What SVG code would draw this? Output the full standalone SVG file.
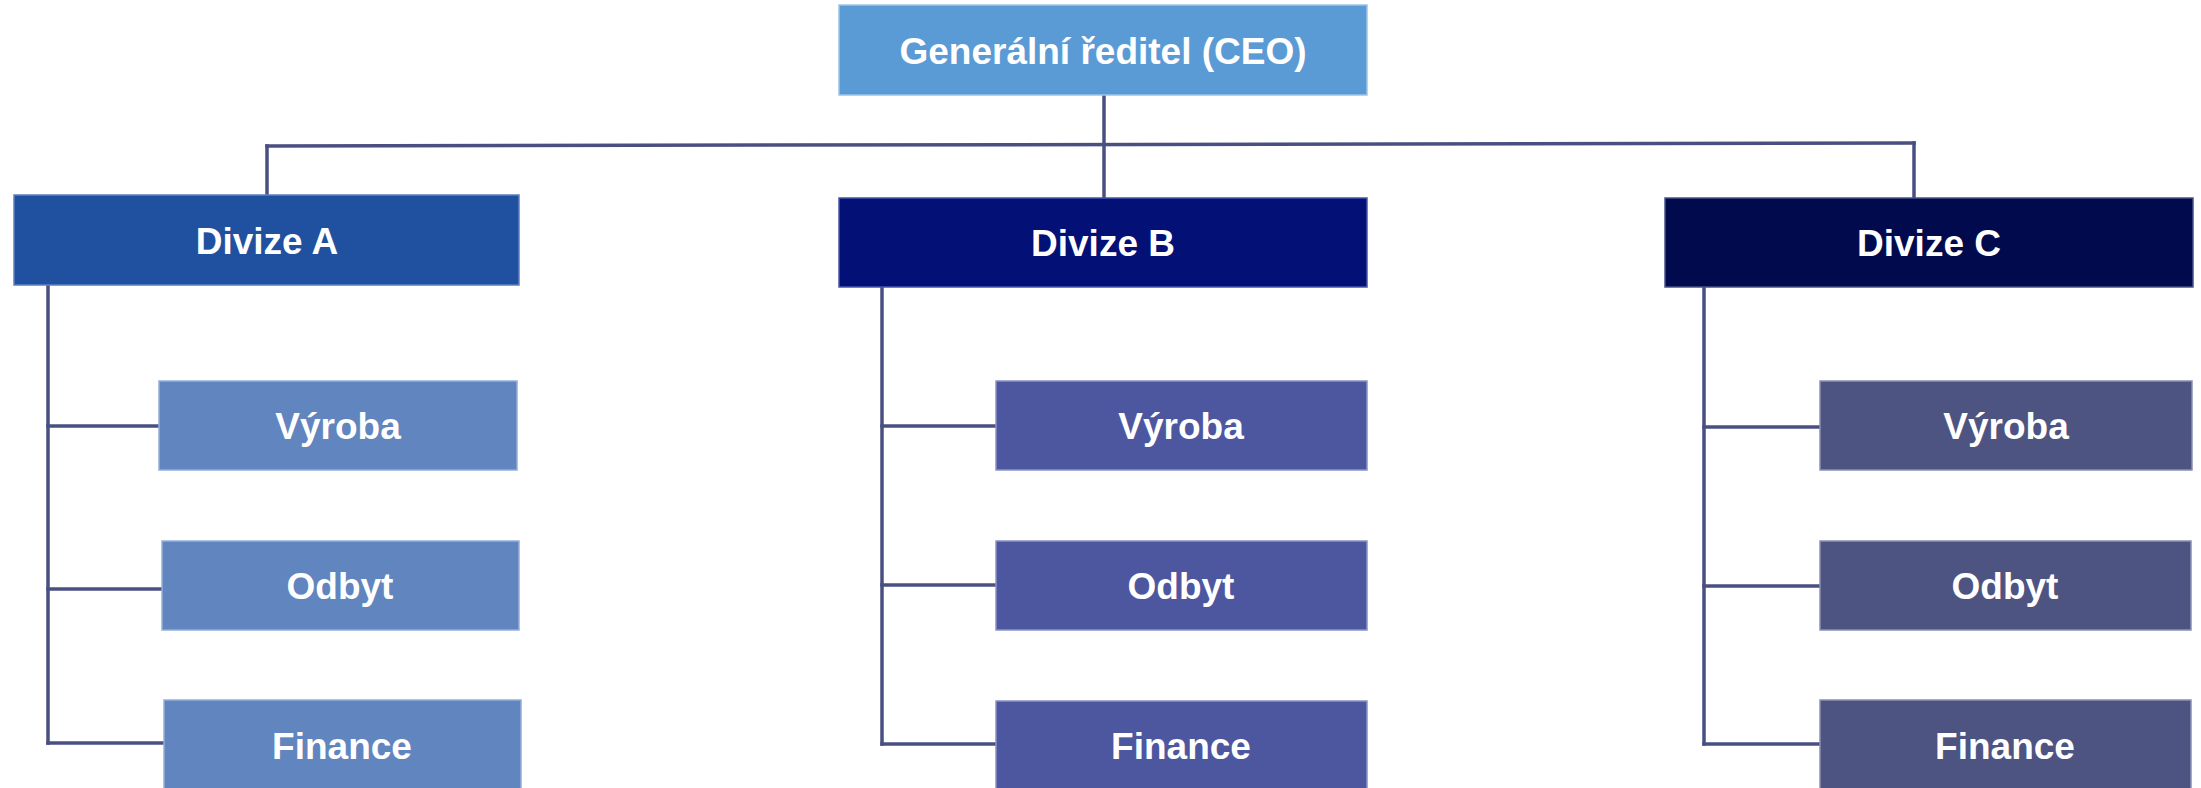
<svg xmlns="http://www.w3.org/2000/svg" width="2201" height="788" viewBox="0 0 2201 788">
<style>
text{font-family:"Liberation Sans",Arial,sans-serif;font-weight:bold;font-size:37px;fill:#ffffff;text-anchor:middle}
.ln{stroke:#4A4F82;stroke-width:3.5;fill:none;stroke-linecap:square}
.ceo{fill:#5B9BD5;stroke:#9DC3E6;stroke-width:1.5}
.da{fill:#2050A0;stroke:#5C7FC0;stroke-width:1.5}
.db{fill:#031075;stroke:#4A56A8;stroke-width:1.5}
.dc{fill:#010A4D;stroke:#4A5288;stroke-width:1.5}
.ca{fill:#6185BE;stroke:#95AEDA;stroke-width:1.5}
.cb{fill:#4D57A0;stroke:#8A93C8;stroke-width:1.5}
.cc{fill:#4D5482;stroke:#8A90B4;stroke-width:1.5}
</style>
<rect width="2201" height="788" fill="#ffffff"/>
<g id="connectors">
<line class="ln" x1="1104" y1="95" x2="1104" y2="198"/>
<line class="ln" x1="267" y1="146" x2="1914" y2="143"/>
<line class="ln" x1="267" y1="146" x2="267" y2="195"/>
<line class="ln" x1="1914" y1="143" x2="1914" y2="198"/>
<line class="ln" x1="48" y1="285" x2="48" y2="743"/>
<line class="ln" x1="48" y1="426" x2="159" y2="426"/>
<line class="ln" x1="48" y1="589" x2="162" y2="589"/>
<line class="ln" x1="48" y1="743" x2="164" y2="743"/>
<line class="ln" x1="882" y1="287" x2="882" y2="744"/>
<line class="ln" x1="882" y1="426" x2="996" y2="426"/>
<line class="ln" x1="882" y1="585" x2="996" y2="585"/>
<line class="ln" x1="882" y1="744" x2="996" y2="744"/>
<line class="ln" x1="1704" y1="287" x2="1704" y2="744"/>
<line class="ln" x1="1704" y1="427" x2="1820" y2="427"/>
<line class="ln" x1="1704" y1="586" x2="1820" y2="586"/>
<line class="ln" x1="1704" y1="744" x2="1820" y2="744"/>
</g>
<g id="ceo"><rect class="ceo" x="839" y="5" width="528" height="90"/><text x="1103" y="64">Generální ředitel (CEO)</text></g>
<g id="divA"><rect class="da" x="14" y="195" width="505" height="90"/><text x="267" y="254">Divize A</text></g>
<g id="divB"><rect class="db" x="839" y="198" width="528" height="89"/><text x="1103" y="256">Divize B</text></g>
<g id="divC"><rect class="dc" x="1665" y="198" width="528" height="89"/><text x="1929" y="256">Divize C</text></g>
<g id="a-vyroba"><rect class="ca" x="159" y="381" width="358" height="89"/><text x="338" y="439">Výroba</text></g>
<g id="a-odbyt"><rect class="ca" x="162" y="541" width="357" height="89"/><text x="340" y="599">Odbyt</text></g>
<g id="a-finance"><rect class="ca" x="164" y="700" width="357" height="90"/><text x="342" y="759">Finance</text></g>
<g id="b-vyroba"><rect class="cb" x="996" y="381" width="371" height="89"/><text x="1181" y="439">Výroba</text></g>
<g id="b-odbyt"><rect class="cb" x="996" y="541" width="371" height="89"/><text x="1181" y="599">Odbyt</text></g>
<g id="b-finance"><rect class="cb" x="996" y="701" width="371" height="89"/><text x="1181" y="759">Finance</text></g>
<g id="c-vyroba"><rect class="cc" x="1820" y="381" width="372" height="89"/><text x="2006" y="439">Výroba</text></g>
<g id="c-odbyt"><rect class="cc" x="1820" y="541" width="371" height="89"/><text x="2005" y="599">Odbyt</text></g>
<g id="c-finance"><rect class="cc" x="1820" y="700" width="371" height="90"/><text x="2005" y="759">Finance</text></g>
</svg>
